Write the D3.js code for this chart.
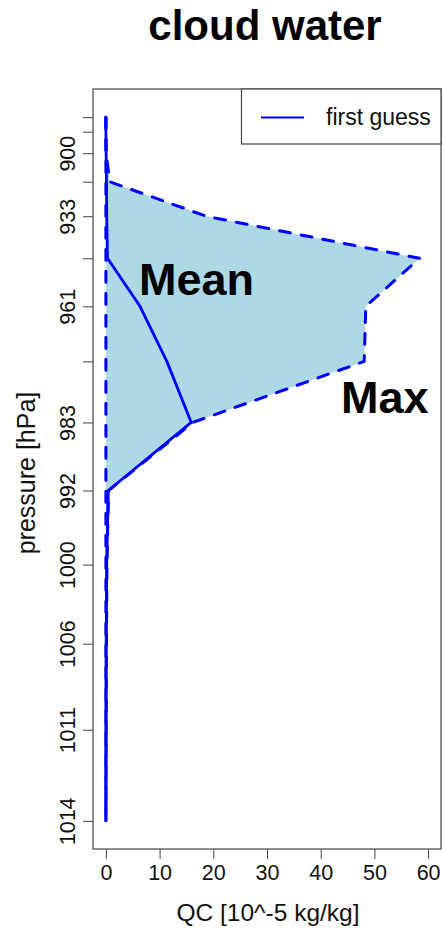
<!DOCTYPE html>
<html>
<head>
<meta charset="utf-8">
<script src="https://cdn.jsdelivr.net/npm/d3@7"></script>
<style>
  html, body { margin: 0; padding: 0; background: #fff; }
  svg { display: block; font-family: "Liberation Sans", Arial, sans-serif; }
</style>
</head>
<body>
<svg id="chart" width="444" height="928"></svg>
<script>
// Model levels, top to bottom: vertical plot coordinate and pressure tick labels
const levelCoord = [7.03, 6.885, 6.67, 6.385, 6.04, 5.62, 5.14, 4.59, 3.98, 3.30, 2.56, 1.77, 0.91, 0];
const pressureLabels = ["", "", "900", "", "933", "", "961", "", "983", "992", "1000", "1006", "1011", "1014"];

// Cloud water QC [10^-5 kg/kg] of the first guess ensemble
const qcMean = [0.0, 0.0, 0.05, 0.1, 0.15, 0.3, 6.35, 11.35, 15.9, 0.45, 0.15, 0.05, 0.02, 0.0];
const qcMax  = [0.0, 0.0, 0.05, 0.7, 18.7, 58.4, 48.4, 48.1, 16.2, 0.5, 0.2, 0.1, 0.05, 0.0];
const qcMin  = [0, 0, 0, 0, 0, 0, 0, 0, 0, 0, 0, 0, 0, 0];

const xTicks = [0, 10, 20, 30, 40, 50, 60];
const xLimits = [0, 60];

const plot = { left: 93, right: 441, top: 89, bottom: 849 };
const blue = "#0000ff";

const svg = d3.select("#chart");

// R-style 4% axis padding
const xPad = (xLimits[1] - xLimits[0]) * 0.04;
const x = d3.scaleLinear()
  .domain([xLimits[0] - xPad, xLimits[1] + xPad])
  .range([plot.left, plot.right]);
const yExt = d3.extent(levelCoord);
const yPad = (yExt[1] - yExt[0]) * 0.04;
const y = d3.scaleLinear()
  .domain([yExt[0] - yPad, yExt[1] + yPad])
  .range([plot.bottom, plot.top]);

const rows = levelCoord.map((c, i) => ({ c, mean: qcMean[i], max: qcMax[i], min: qcMin[i] }));

// spread between ensemble min and max
svg.append("path")
  .datum(rows)
  .attr("fill", "#add8e6")
  .attr("d", d3.area().y(d => y(d.c)).x0(d => x(d.min)).x1(d => x(d.max)));

const line = key => d3.line().x(d => x(d[key])).y(d => y(d.c));

["min", "max"].forEach(k => {
  svg.append("path")
    .datum(rows)
    .attr("fill", "none")
    .attr("stroke", blue)
    .attr("stroke-width", 3)
    .attr("stroke-dasharray", "11 11")
    .attr("stroke-linecap", "round")
    .attr("stroke-linejoin", "round")
    .attr("d", line(k));
});

svg.append("path")
  .datum(rows)
  .attr("fill", "none")
  .attr("stroke", blue)
  .attr("stroke-width", 2.8)
  .attr("stroke-linecap", "round")
  .attr("stroke-linejoin", "round")
  .attr("d", line("mean"));

// annotations
svg.append("text").attr("x", 139).attr("y", 295)
  .attr("font-size", 45).attr("font-weight", "bold").attr("fill", "#000").text("Mean");
svg.append("text").attr("x", 341).attr("y", 413)
  .attr("font-size", 45).attr("font-weight", "bold").attr("fill", "#000").text("Max");

// x axis
const xAxis = svg.append("g")
  .attr("transform", `translate(0,${plot.bottom})`)
  .call(d3.axisBottom(x).tickValues(xTicks).tickFormat(d3.format("d")).tickSize(10).tickPadding(6));
xAxis.select(".domain").remove();
xAxis.selectAll("line").attr("stroke", "#444");
xAxis.selectAll("text").attr("font-size", 21.5).attr("fill", "#111")
  .attr("font-family", "Liberation Sans, Arial, sans-serif").attr("dy", "0.71em");

// y axis with pressure labels at model levels
const yAxis = svg.append("g")
  .attr("transform", `translate(${plot.left},0)`)
  .call(d3.axisLeft(y).tickValues(levelCoord)
    .tickFormat((d, i) => pressureLabels[i]).tickSize(10).tickPadding(0));
yAxis.select(".domain").remove();
yAxis.selectAll("line").attr("stroke", "#444");
yAxis.selectAll("text")
  .attr("font-size", 21.5).attr("fill", "#111")
  .attr("font-family", "Liberation Sans, Arial, sans-serif")
  .attr("x", null).attr("dy", null)
  .attr("text-anchor", "middle")
  .attr("transform", "translate(-18,0) rotate(-90)");

// frame
svg.append("rect")
  .attr("x", plot.left).attr("y", plot.top)
  .attr("width", plot.right - plot.left).attr("height", plot.bottom - plot.top)
  .attr("fill", "none").attr("stroke", "#444").attr("stroke-width", 1.2);

// legend
const lg = svg.append("g");
lg.append("rect").attr("x", 241.5).attr("y", plot.top)
  .attr("width", plot.right - 241.5).attr("height", 55)
  .attr("fill", "#fff").attr("stroke", "#444").attr("stroke-width", 1.2);
lg.append("line").attr("x1", 261).attr("x2", 304).attr("y1", 117.5).attr("y2", 117.5)
  .attr("stroke", blue).attr("stroke-width", 2);
lg.append("text").attr("x", 326).attr("y", 125).attr("font-size", 23)
  .attr("fill", "#111").text("first guess");

// titles
svg.append("text").attr("x", 265).attr("y", 40)
  .attr("text-anchor", "middle").attr("font-size", 42).attr("font-weight", "bold")
  .attr("fill", "#000").text("cloud water");
svg.append("text").attr("x", 268).attr("y", 921)
  .attr("text-anchor", "middle").attr("font-size", 24.5).attr("fill", "#111")
  .text("QC [10^-5 kg/kg]");
svg.append("text")
  .attr("transform", `translate(35,473) rotate(-90)`)
  .attr("text-anchor", "middle").attr("font-size", 25).attr("fill", "#111")
  .text("pressure [hPa]");
</script>
</body>
</html>
